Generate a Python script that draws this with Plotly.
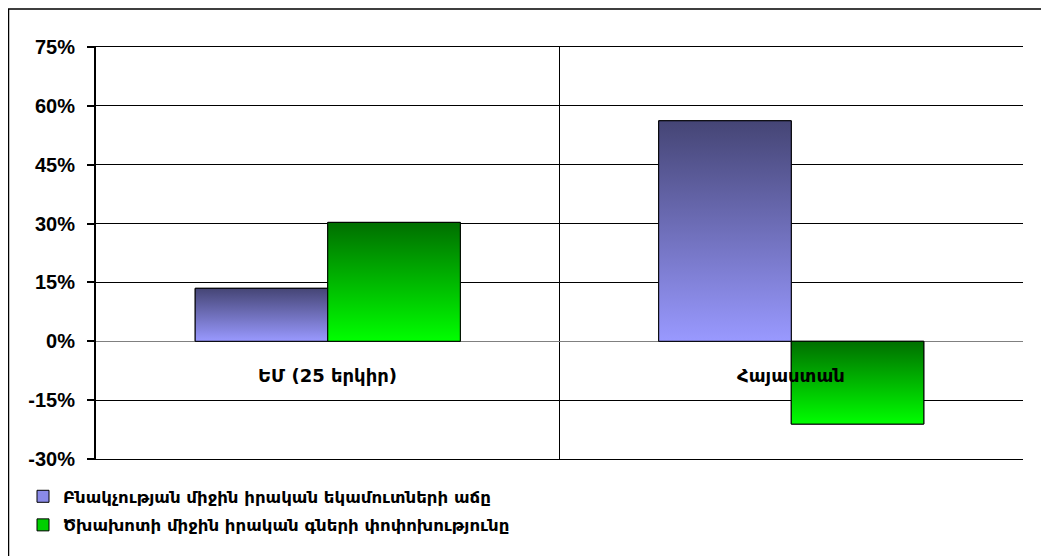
import plotly.graph_objects as go

categories = ["ԵՄ (25 երկիր)", "Հայաստան"]
series_names = [
    "Բնակչության միջին իրական եկամուտների աճը",
    "Ծխախոտի միջին իրական գների փոփոխությունը",
]
income_growth = [13.5, 56.2]
price_change = [30.3, -21.1]
y_ticks = [-30, -15, 0, 15, 30, 45, 60, 75]
y_tick_labels = ["-30%", "-15%", "0%", "15%", "30%", "45%", "60%", "75%"]

BAR_W = 0.286
FONT = "Arial, Liberation Sans, sans-serif"
ARM_FONT = "DejaVu Sans, Arial, sans-serif"
styles = [
    dict(dark="#454575", light="#9999ff", legend="#8a8ae8", offset=-BAR_W),
    dict(dark="#006f00", light="#00ff00", legend="#00d000", offset=0.0),
]
series = [income_growth, price_change]

# figure geometry (page has 8px body margin)
W, H = 1041, 548
L, R, T, B = 88, 26, 39, 97
PW, PH = W - L - R, H - T - B

fig = go.Figure()

for name, vals, st in zip(series_names, series, styles):
    fig.add_trace(go.Bar(
        x=list(range(len(categories))), y=vals, name=f"<b>{name}</b>",
        width=BAR_W, offset=st["offset"],
        marker=dict(color=st["legend"], line=dict(color="#000", width=1)),
        legendgroup=name, hoverinfo="skip",
    ))

for name, vals, st in zip(series_names, series, styles):
    for i, v in enumerate(vals):
        x0 = i + st["offset"]
        x1 = x0 + BAR_W
        lo, hi = min(0, v), max(0, v)
        fig.add_trace(go.Scatter(
            x=[x0, x1, x1, x0, x0], y=[0, 0, v, v, 0],
            mode="lines", fill="toself",
            line=dict(color="#000", width=1),
            fillgradient=dict(type="vertical", start=lo, stop=hi,
                              colorscale=[[0, st["light"]], [1, st["dark"]]]),
            showlegend=False, hoverinfo="skip", legendgroup=name,
        ))

for i, c in enumerate(categories):
    fig.add_annotation(x=i, y=0, xref="x", yref="y", text=f"<b>{c}</b>",
                       showarrow=False, yanchor="middle", yshift=-34,
                       font=dict(family=ARM_FONT, size=18, color="#000"))

fig.add_shape(type="rect", xref="paper", yref="paper",
              x0=-(L - 0.5) / PW, x1=1.2, y0=-0.3, y1=1 + (T - 1) / PH,
              line=dict(color="#000", width=1.5), layer="below")

fig.update_layout(
    width=W, height=H,
    margin=dict(l=L, r=R, t=T, b=B, autoexpand=False),
    paper_bgcolor="#fff", plot_bgcolor="#fff",
    barmode="overlay",
    showlegend=True,
    legend=dict(x=(15 - L) / PW, y=-(471 - 451) / PH, xanchor="left", yanchor="top",
                font=dict(family=ARM_FONT, size=16.6, color="#000"),
                tracegroupgap=4, itemwidth=30, bgcolor="rgba(0,0,0,0)"),
    xaxis=dict(range=[-0.5, 1.5], tickmode="array", tickvals=[0.5],
               showticklabels=False, ticks="",
               showgrid=True, gridcolor="#000", gridwidth=1,
               showline=True, linecolor="#000", linewidth=1, mirror=True,
               zeroline=False, fixedrange=True),
    yaxis=dict(range=[-30, 75], tickmode="array", tickvals=y_ticks,
               ticktext=[f"<b>{t}</b>" for t in y_tick_labels],
               tickfont=dict(family=FONT, size=20, color="#000"),
               ticks="outside", ticklen=7, tickcolor="#000", tickwidth=1.5,
               ticklabelstandoff=8,
               showgrid=True, gridcolor="#000", gridwidth=1,
               showline=True, linecolor="#000", linewidth=2,
               zeroline=True, zerolinecolor="#808080", zerolinewidth=1,
               fixedrange=True),
)

fig.write_html("out.html")
